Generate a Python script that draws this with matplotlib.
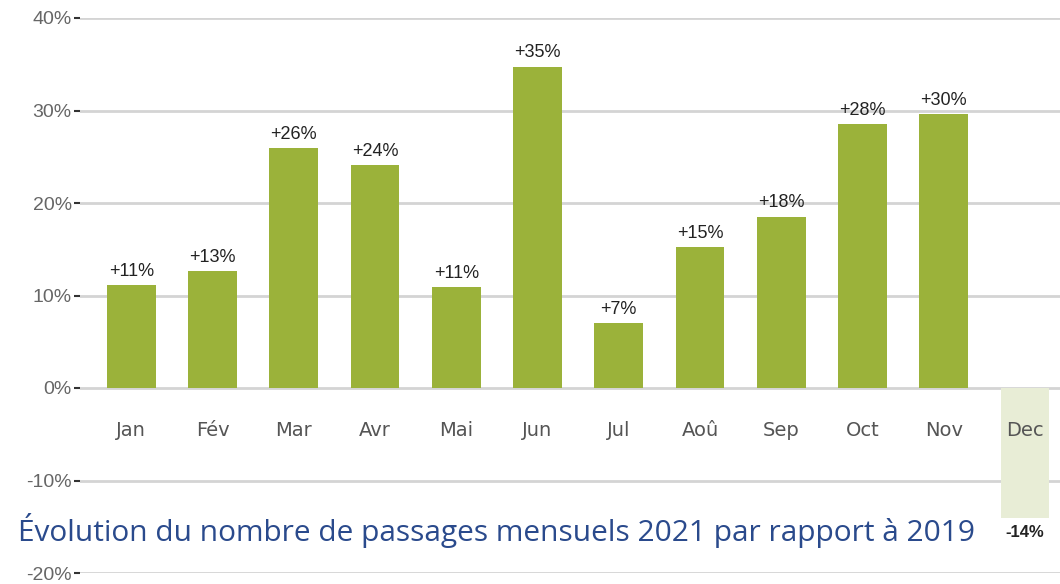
import matplotlib.pyplot as plt
from matplotlib import font_manager

months = ["Jan", "Fév", "Mar", "Avr", "Mai", "Jun", "Jul", "Aoû", "Sep", "Oct", "Nov", "Dec"]
values = [11.1, 12.6, 25.9, 24.1, 10.9, 34.7, 7.0, 15.2, 18.5, 28.5, 29.6, -14.0]
labels = ["+11%", "+13%", "+26%", "+24%", "+11%", "+35%", "+7%", "+15%", "+18%", "+28%", "+30%", "-14%"]
yticks = [-20, -10, 0, 10, 20, 30, 40]

names = {f.name for f in font_manager.fontManager.ttflist}
narrow = "Liberation Sans Narrow" if "Liberation Sans Narrow" in names else "Liberation Sans"

fig = plt.figure(figsize=(10.6, 5.84), dpi=100)
ax = fig.add_axes([80 / 1060, 1 - 573 / 584, 980 / 1060, (573 - 18) / 584])

green = "#9bb23a"
light = "#e8edd6"
colors = [green] * 11 + [light]
x = list(range(len(months)))
ax.bar(x, values, width=0.6, color=colors, zorder=2)

for t in yticks:
    ax.axhline(t, color="#d4d4d4", lw=2, zorder=1)

ax.set_xlim(-0.63, 11.43)
ax.set_ylim(-20, 40)
ax.set_yticks(yticks)
ax.set_yticklabels([f"{t}%" for t in yticks], fontsize=14, color="#666666", family=narrow)
ax.tick_params(axis="y", length=4, width=1.5, color="#333333", pad=2)
ax.set_xticks([])
for s in ax.spines.values():
    s.set_visible(False)

for i, (v, lab) in enumerate(zip(values, labels)):
    if v >= 0:
        ax.text(i, v + 0.6, lab, ha="center", va="bottom", fontsize=13, color="#222222", family=narrow)
    else:
        ax.text(i, v - 0.8, lab, ha="center", va="top", fontsize=12, color="#222222",
                family=narrow, fontweight="bold")
    ax.text(i, -4.6, months[i], ha="center", va="center", fontsize=14, color="#555555")

fig.text(18 / 1060, 1 - 531 / 584, "Évolution du nombre de passages mensuels 2021 par rapport à 2019",
         ha="left", va="center", fontsize=21.5, color="#2a4a8c", family="Open Sans", zorder=3)

fig.savefig("out.png", dpi=100)
